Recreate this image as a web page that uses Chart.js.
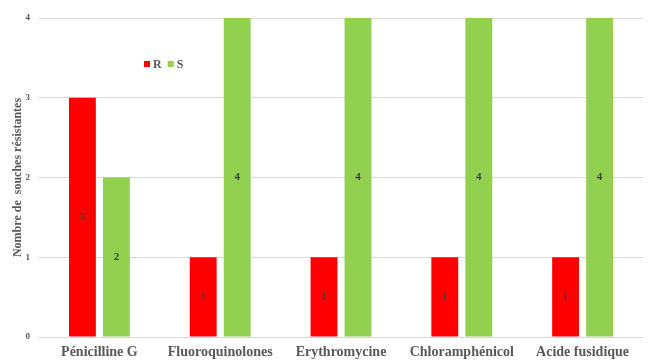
<!DOCTYPE html>
<html>
<head>
<meta charset="utf-8">
<script src="https://cdn.jsdelivr.net/npm/chart.js@4/dist/chart.umd.min.js"></script>
<style>
  html, body { margin: 0; padding: 0; background: #fff; overflow: hidden; }
  #wrap { width: 649px; height: 361px; position: relative; }
</style>
</head>
<body>
<div id="wrap"><canvas id="c"></canvas></div>
<script>
const categories = ["Pénicilline G", "Fluoroquinolones", "Erythromycine", "Chloramphénicol", "Acide fusidique"];
const resistant = [3, 1, 1, 1, 1];
const sensitive = [2, 4, 4, 4, 4];
const yTicks = [0, 1, 2, 3, 4];

const SERIF = "'Liberation Serif', 'Times New Roman', serif";
const TEXT = "#595959";

// Values written at the vertical middle of each bar
const barValues = {
  id: "barValues",
  afterDatasetsDraw(chart) {
    const ctx = chart.ctx;
    ctx.save();
    ctx.font = "bold 11px " + SERIF;
    ctx.fillStyle = "#404040";
    ctx.textAlign = "center";
    ctx.textBaseline = "middle";
    chart.data.datasets.forEach((ds, i) => {
      chart.getDatasetMeta(i).data.forEach((bar, j) => {
        const y = (bar.y + bar.base) / 2;
        ctx.fillText(String(ds.data[j]), bar.x, y);
      });
    });
    ctx.restore();
  }
};

// Compact legend drawn inside the plot area
const innerLegend = {
  id: "innerLegend",
  afterDraw(chart) {
    const ctx = chart.ctx;
    ctx.save();
    ctx.font = "bold 12px " + SERIF;
    ctx.textBaseline = "middle";
    let x = 144;
    const y = 64;
    chart.data.datasets.forEach(ds => {
      ctx.fillStyle = ds.backgroundColor;
      ctx.fillRect(x, y - 3, 6, 6);
      x += 9;
      ctx.fillStyle = TEXT;
      ctx.fillText(ds.label, x, y + 0.5);
      x += ctx.measureText(ds.label).width + 6;
    });
    ctx.restore();
  }
};

new Chart(document.getElementById("c"), {
  type: "bar",
  data: {
    labels: categories,
    datasets: [
      { label: "R", data: resistant, backgroundColor: "#FF0000" },
      { label: "S", data: sensitive, backgroundColor: "#92D050" }
    ]
  },
  options: {
    responsive: true,
    maintainAspectRatio: false,
    animation: false,
    devicePixelRatio: 1,
    layout: { padding: { top: 18, right: 6, left: 11, bottom: 0 } },
    datasets: { bar: { categoryPercentage: 0.563, barPercentage: 0.79 } },
    plugins: {
      legend: { display: false },
      tooltip: { enabled: false }
    },
    scales: {
      x: {
        grid: { display: false, drawTicks: false },
        border: { display: false },
        ticks: {
          color: TEXT,
          font: { family: SERIF, size: 14, weight: "bold" },
          padding: 7,
          maxRotation: 0,
          autoSkip: false
        },
        afterFit(s) { s.height = 24; }
      },
      y: {
        min: 0,
        max: 4,
        afterBuildTicks(s) { s.ticks = yTicks.map(v => ({ value: v })); },
        grid: { color: "#d9d9d9", lineWidth: 1, drawTicks: false },
        border: { display: false },
        ticks: {
          color: TEXT,
          font: { family: SERIF, size: 9, weight: "bold" },
          padding: 9
        },
        title: {
          display: true,
          text: "Nombre de  souches résistantes",
          color: TEXT,
          font: { family: SERIF, size: 12, weight: "bold" },
          padding: 0
        },
        afterFit(s) { s.width = 28; }
      }
    }
  },
  plugins: [barValues, innerLegend]
});
</script>
</body>
</html>
